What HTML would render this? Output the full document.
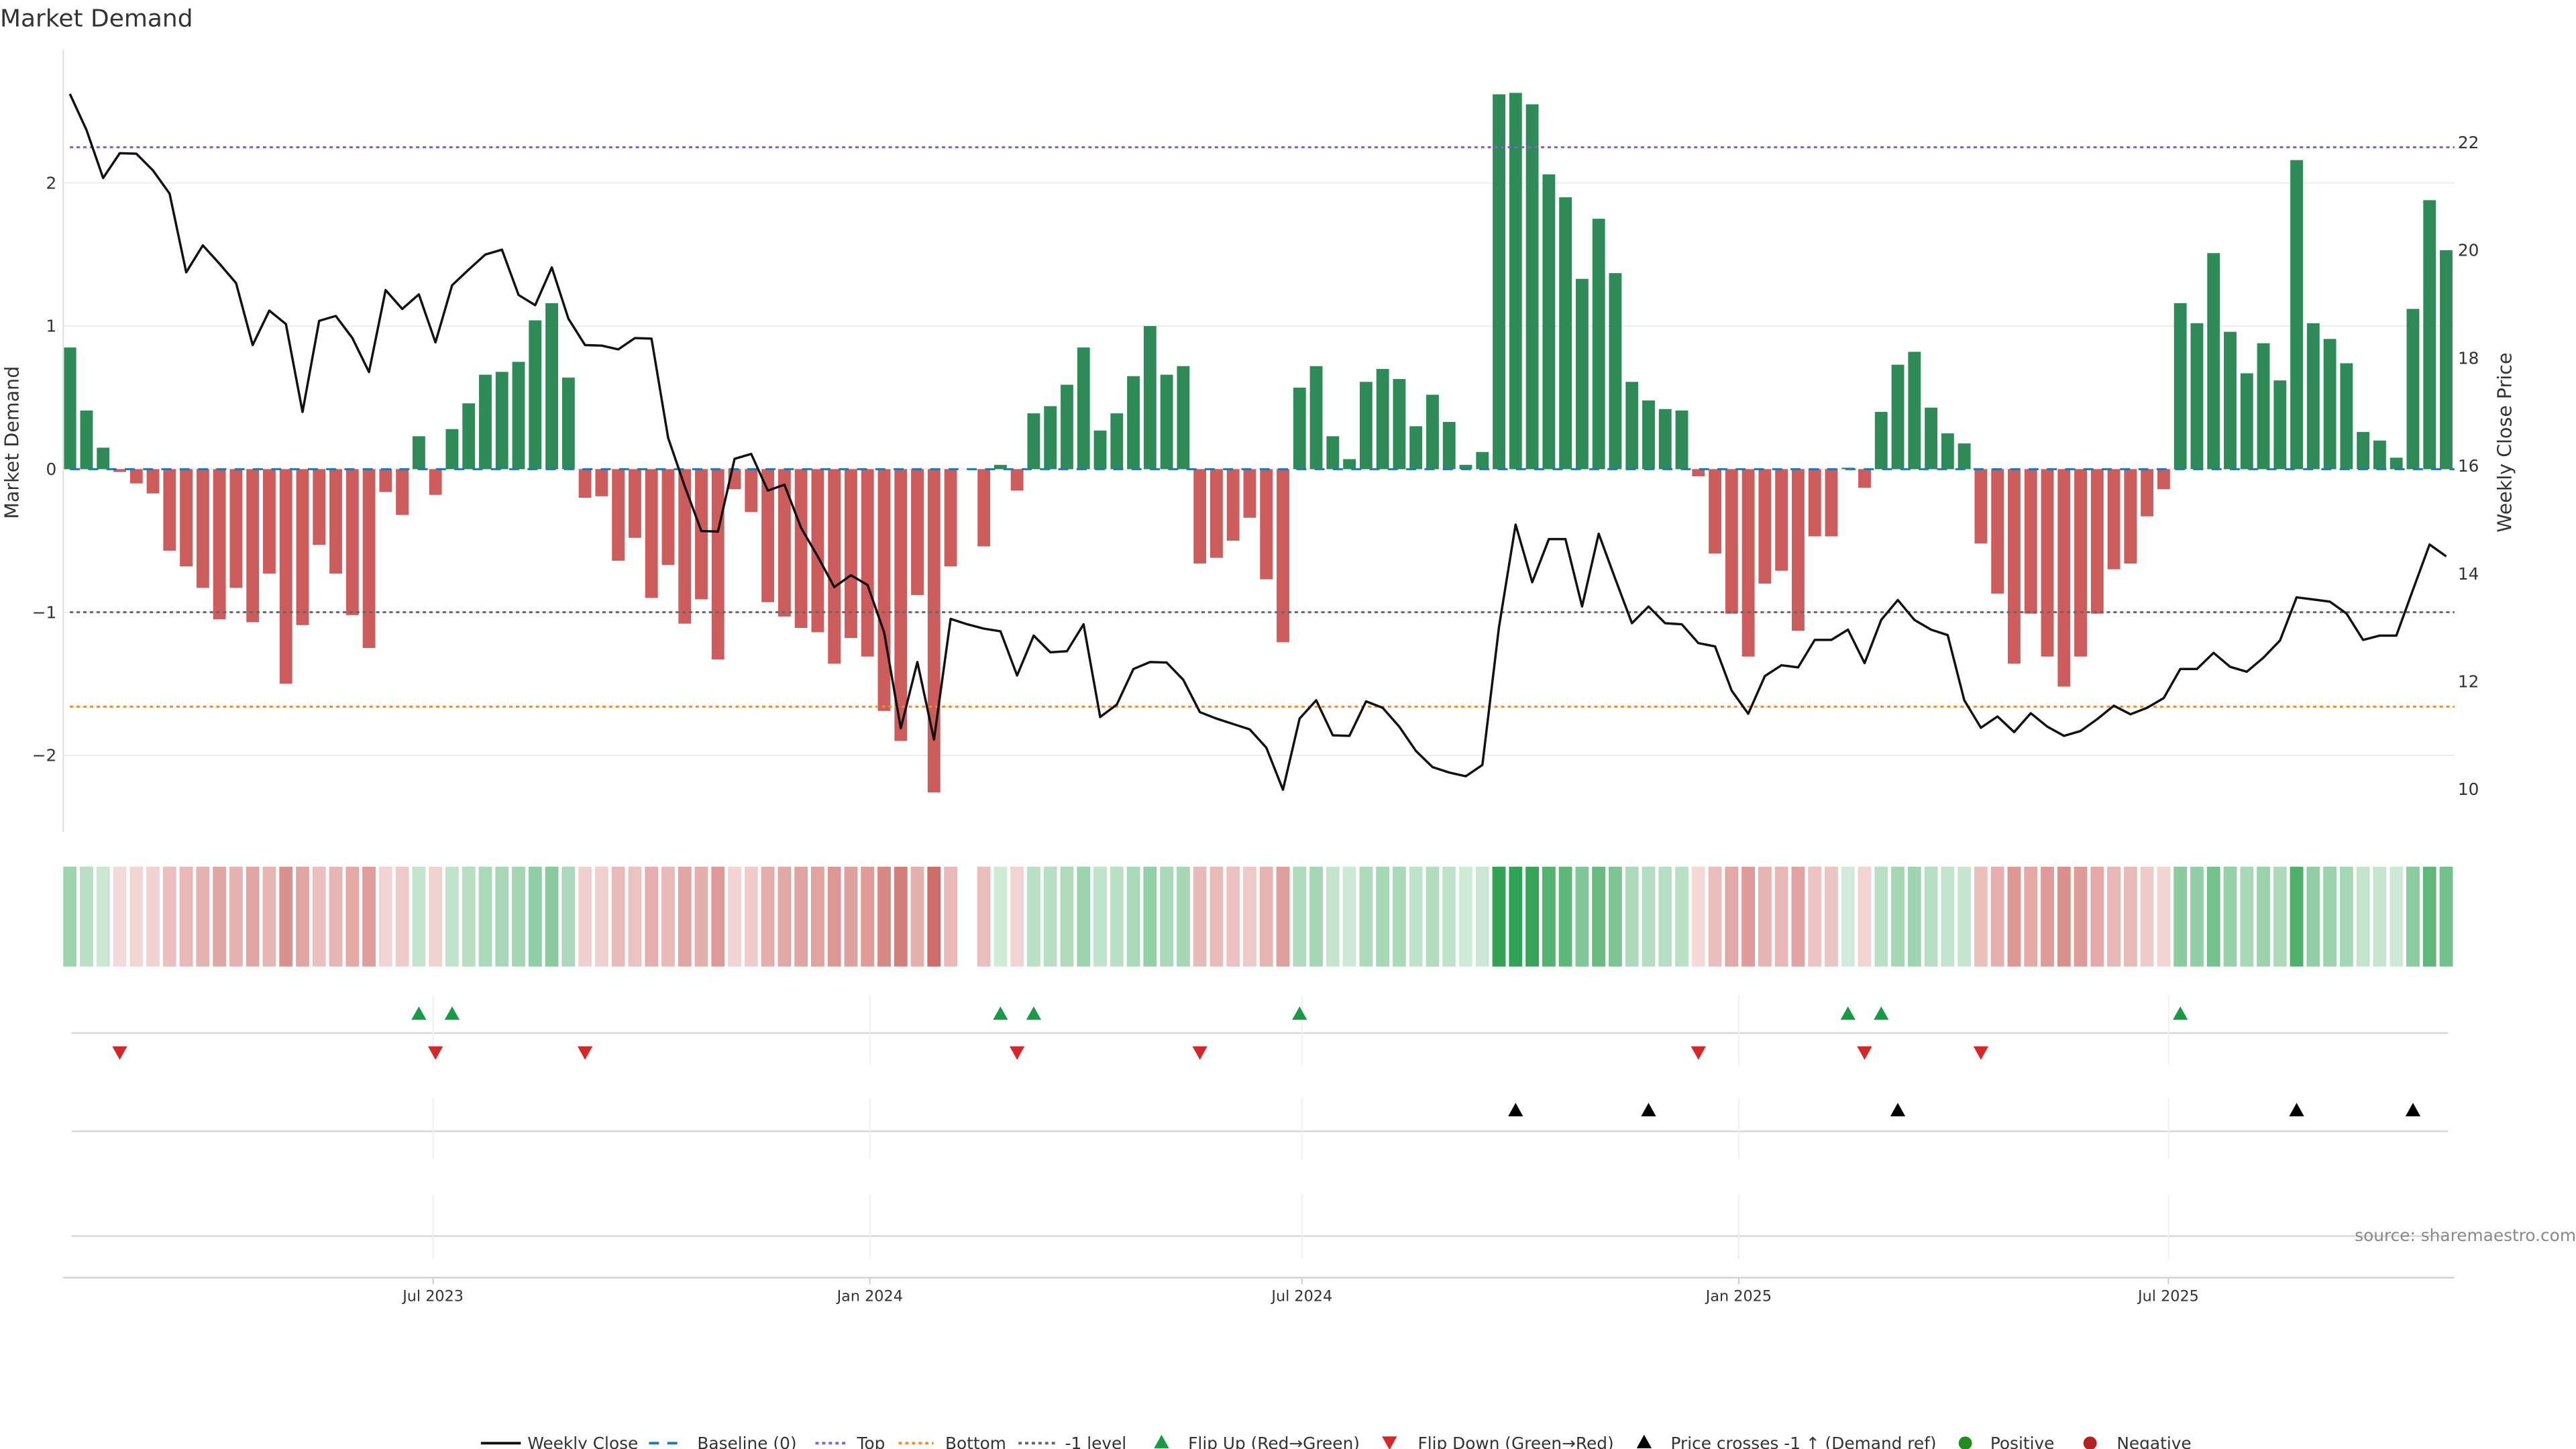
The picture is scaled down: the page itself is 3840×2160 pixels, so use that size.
<!DOCTYPE html>
<html><head><meta charset="utf-8">
<style>
html,body{margin:0;padding:0;background:#fff;}
svg{display:block;font-family:"DejaVu Sans","Liberation Sans",sans-serif;}
</style></head>
<body>
<svg id="chart" width="3840" height="2160" viewBox="0 0 1548 871" preserveAspectRatio="none" xmlns="http://www.w3.org/2000/svg">
<text x="0" y="16" font-size="14.5" fill="#333">Market Demand</text>
<g id="grid"></g>
<g id="bars"></g>
<g id="lines"></g>
<g id="heat"></g>
<g id="events"></g>
<g id="axes"></g>
<text x="1548" y="746" font-size="10" fill="#888" text-anchor="end">source: sharemaestro.com</text>
<g id="legend"></g>
</svg>
<script>
const demand = [0.85,0.41,0.15,-0.02,-0.10,-0.17,-0.57,-0.68,-0.83,-1.05,-0.83,-1.07,-0.73,-1.50,-1.09,-0.53,-0.73,-1.02,-1.25,-0.16,-0.32,0.23,-0.18,0.28,0.46,0.66,0.68,0.75,1.04,1.16,0.64,-0.20,-0.19,-0.64,-0.48,-0.90,-0.67,-1.08,-0.91,-1.33,-0.14,-0.30,-0.93,-1.03,-1.11,-1.14,-1.36,-1.18,-1.31,-1.69,-1.90,-0.88,-2.26,-0.68,null,-0.54,0.03,-0.15,0.39,0.44,0.59,0.85,0.27,0.39,0.65,1.00,0.66,0.72,-0.66,-0.62,-0.50,-0.34,-0.77,-1.21,0.57,0.72,0.23,0.07,0.61,0.70,0.63,0.30,0.52,0.33,0.03,0.12,2.62,2.63,2.55,2.06,1.90,1.33,1.75,1.37,0.61,0.48,0.42,0.41,-0.05,-0.59,-1.01,-1.31,-0.80,-0.71,-1.13,-0.47,-0.47,0.01,-0.13,0.40,0.73,0.82,0.43,0.25,0.18,-0.52,-0.87,-1.36,-1.01,-1.31,-1.52,-1.31,-1.01,-0.70,-0.66,-0.33,-0.14,1.16,1.02,1.51,0.96,0.67,0.88,0.62,2.16,1.02,0.91,0.74,0.26,0.20,0.08,1.12,1.88,1.53];
const price = [22.90,22.23,21.34,21.80,21.79,21.48,21.05,19.59,20.09,19.75,19.39,18.24,18.88,18.63,17.00,18.69,18.78,18.37,17.74,19.26,18.91,19.18,18.29,19.35,19.64,19.92,20.01,19.17,18.98,19.68,18.73,18.24,18.23,18.16,18.37,18.36,16.52,15.62,14.79,14.78,16.13,16.22,15.54,15.65,14.85,14.32,13.75,13.97,13.79,12.91,11.13,12.36,10.92,13.16,13.06,12.98,12.93,12.11,12.85,12.54,12.56,13.06,11.34,11.57,12.23,12.36,12.35,12.03,11.43,11.31,11.21,11.11,10.77,9.99,11.31,11.65,11.00,10.99,11.63,11.51,11.16,10.71,10.41,10.31,10.24,10.45,13.01,14.91,13.84,14.64,14.64,13.39,14.74,13.90,13.08,13.39,13.08,13.06,12.71,12.65,11.83,11.40,12.10,12.30,12.26,12.77,12.77,12.96,12.34,13.14,13.51,13.14,12.96,12.86,11.65,11.14,11.35,11.06,11.41,11.16,10.99,11.08,11.30,11.55,11.39,11.51,11.69,12.23,12.23,12.53,12.27,12.18,12.44,12.76,13.56,13.52,13.48,13.26,12.77,12.85,12.85,13.70,14.54,14.32];
const leftTicks = [2,1,0,-1,-2];
const rightTicks = [22,20,18,16,14,12,10];
const dateTicks = ["2023-07-01","2024-01-01","2024-07-01","2025-01-01","2025-07-01"];
const dateLabels = ["Jul 2023","Jan 2024","Jul 2024","Jan 2025","Jul 2025"];
const topLevel = 2.25, bottomLevel = -1.66, minusOneLevel = -1;
const priceRef = 13.29;

const NS="http://www.w3.org/2000/svg";
function mk(tag, attrs, parent){const e=document.createElementNS(NS,tag);for(const k in attrs)e.setAttribute(k,attrs[k]);parent.appendChild(e);return e;}
const t0 = Date.parse("2023-01-29"), WEEK=7*864e5, STEP=9.986, X0=42;
const xi = i => X0 + i*STEP;
const xd = s => X0 + (Date.parse(s)-t0)/WEEK*STEP;
const yd = v => 282 - v*86;
const yp = p => 280 - (p-16)*32.4;
const L=38,R=1475;
const grid=document.getElementById('grid'),bars=document.getElementById('bars'),lines=document.getElementById('lines'),heat=document.getElementById('heat'),ev=document.getElementById('events'),axes=document.getElementById('axes'),leg=document.getElementById('legend');

leftTicks.forEach(v=>{
  const g=mk('line',{x1:L,x2:R,y1:yd(v),y2:yd(v),stroke:'#ececec','stroke-width':0.8},grid);
  
  
  const t=mk('text',{x:34,y:yd(v)+3.5,'font-size':10,fill:'#333','text-anchor':'end'},axes);
  t.textContent = v<0 ? '\u2212'+Math.abs(v) : String(v);
  
  
});
rightTicks.forEach(p=>{
  const t=mk('text',{x:1477,y:yp(p)+3.5,'font-size':10,fill:'#333'},axes);
  t.textContent=String(p);
  
  
});
const ax=mk('line',{x1:L,x2:L,y1:30,y2:500,stroke:'#e4e4e4','stroke-width':1},axes);


let yt=mk('text',{x:0,y:0,'font-size':11.5,fill:'#333','text-anchor':'middle',transform:'translate(11,266) rotate(-90)'},axes);
yt.textContent='Market Demand';


yt=mk('text',{x:0,y:0,'font-size':11.5,fill:'#333','text-anchor':'middle',transform:'translate(1509,266) rotate(-90)'},axes);
yt.textContent='Weekly Close Price';



// bars
demand.forEach((v,i)=>{
  if(v===null) return;
  const y0=yd(0), y1=yd(v);
  const b=mk('rect',{x:xi(i)-3.8,width:7.6,y:Math.min(y0,y1),height:Math.max(0.6,Math.abs(y1-y0)),fill:v>=0?'#2e8b57':'#cd5c5c'},bars);
  
  
});
// reference lines
function hline(v,color,dash,name){
  const l=mk('line',{x1:42,x2:R,y1:yd(v),y2:yd(v),stroke:color,'stroke-width':1.2,'stroke-dasharray':dash},lines);
  
  
}
hline(0,'#1f77b4','6 5','baseline-line');
hline(topLevel,'#7b68c8','2 2','top-line');
hline(bottomLevel,'#f28c28','2 2','bottom-line');
hline(minusOneLevel,'#666','2 2','minus-one-line');
// price line
const pl=mk('polyline',{points:price.map((p,i)=>xi(i)+','+yp(p)).join(' '),fill:'none',stroke:'#111','stroke-width':1.4,'stroke-linejoin':'round'},lines);



// heatmap
const maxAbs=2.63;
function mix(c,a){return 'rgb('+c.map(v=>Math.round(255-(255-v)*a)).join(',')+')';}
demand.forEach((v,i)=>{
  if(v===null) return;
  const a=0.22+0.78*Math.min(1,Math.abs(v)/maxAbs);
  const c=mk('rect',{x:xi(i)-4,width:8,y:521,height:60,fill:v>=0?mix([49,163,84],a):mix([200,90,85],a)},heat);
  
  
});

// event rows
[621,680,743].forEach(y=>{
  const l=mk('line',{x1:43,x2:1471,y1:y,y2:y,stroke:'#d6d6d6','stroke-width':1},ev);
  
  
});
dateTicks.forEach((d,k)=>{
  const x=xd(d);
  [[598,640],[660,697],[718,757]].forEach(r=>{
    const g=mk('line',{x1:x,x2:x,y1:r[0],y2:r[1],stroke:'#efefef','stroke-width':0.8},ev);
    
    
  });
  const tk=mk('line',{x1:x,x2:x,y1:768,y2:772,stroke:'#ccc','stroke-width':0.8},axes);
  
  
  const t=mk('text',{x:x,y:782,'font-size':9,fill:'#333','text-anchor':'middle'},axes);
  t.textContent=dateLabels[k];
  
  
});
const xa=mk('line',{x1:L,x2:R,y1:768,y2:768,stroke:'#d0d0d0','stroke-width':1},axes);


function tri(x,y,up,color,parent){
  const s=4.5;
  const pts=up?`${x-s},${y+s*0.9} ${x+s},${y+s*0.9} ${x},${y-s*0.9}`:`${x-s},${y-s*0.9} ${x+s},${y-s*0.9} ${x},${y+s*0.9}`;
  return mk('polygon',{points:pts,fill:color},parent);
}
let prev=null;
demand.forEach((v,i)=>{
  if(v===null) return;
  if(prev!==null){
    if(prev<0 && v>=0){const m=tri(xi(i),609,true,'#1a9a45',ev);
      
      }
    if(prev>=0 && v<0){const m=tri(xi(i),633,false,'#d62728',ev);
      
      }
  }
  prev=v;
});
price.forEach((p,i)=>{
  if(i>0 && price[i-1]<priceRef && p>=priceRef){
    const m=tri(xi(i),667,true,'#000',ev);
    
    
  }
});

// legend
function ltext(x,s){const t=mk('text',{x:x,y:871,'font-size':10,fill:'#333'},leg);t.textContent=s;}
function lline(x1,x2,color,dash,w){const l=mk('line',{x1:x1,x2:x2,y1:867.5,y2:867.5,stroke:color,'stroke-width':w,'stroke-dasharray':dash},leg);}
lline(289,313,'#111','none',1.6); ltext(317,'Weekly Close');
lline(390,412,'#1f77b4','6 5',1.6); ltext(419,'Baseline (0)');
lline(490,509,'#7b68c8','2 2',1.6); ltext(515,'Top');
lline(540,561,'#f28c28','2 2',1.6); ltext(568,'Bottom');
lline(612,634,'#666','2 2',1.6); ltext(640,'-1 level');
let m=tri(698,866.5,true,'#1a9a45',leg);   ltext(714,'Flip Up (Red\u2192Green)');
m=tri(835,867.5,false,'#d62728',leg);   ltext(852,'Flip Down (Green\u2192Red)');
m=tri(988,866.5,true,'#000',leg);   ltext(1004,'Price crosses -1 \u2191 (Demand ref)');
m=mk('circle',{cx:1181,cy:867.5,r:4,fill:'#228b22'},leg);   ltext(1196,'Positive');
m=mk('circle',{cx:1256,cy:867.5,r:4,fill:'#b22222'},leg);   ltext(1272,'Negative');
</script>
</body></html>
